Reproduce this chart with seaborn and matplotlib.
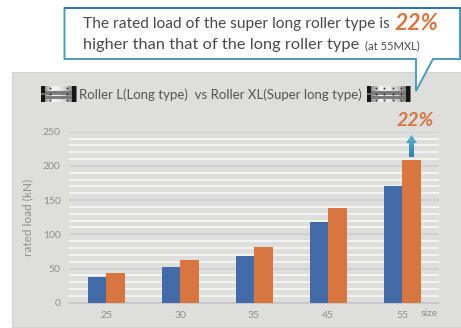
import numpy as np
import pandas as pd
import matplotlib
matplotlib.use('Agg')
import matplotlib.pyplot as plt
from matplotlib.colors import LinearSegmentedColormap
from matplotlib.patches import Polygon, Rectangle
import seaborn as sns

sizes = ['25', '30', '35', '45', '55']
roller_l = [38, 52, 68, 118, 170]
roller_xl = [44, 62, 82, 138, 208]

BLUE = '#436BA8'
ORANGE = '#D87642'
PANEL = '#DEDEDD'
TEXT = '#4A4A4A'
GREY = '#8F8F8F'
W, H = 461, 328


def draw_roller(ax, x0, x1, y0, y1, dots):
    # little rail icon next to the title
    grad = np.array([0.55, 0.95, 0.92, 0.8, 0.45]).reshape(1, -1)
    ax.imshow(grad, extent=(x0, x1, y1, y0), cmap='gray', vmin=0, vmax=1, aspect='auto',
              interpolation='bilinear', zorder=3)
    for yy in (y0 + 5.5, y1 - 5):
        ax.plot([x0, x1], [yy, yy], color='#7A7A7A', lw=2.2, solid_capstyle='butt', zorder=4)
    ax.add_patch(Rectangle((x0, y0), 4, y1 - y0, color='#161616', lw=0, zorder=5))
    ax.add_patch(Rectangle((x1 - 4, y0), 4, y1 - y0, color='#161616', lw=0, zorder=5))
    ax.plot([x0, x1 - 4], [(y0 + y1) / 2] * 2, color='#777777', lw=1.2, solid_capstyle='butt', zorder=5)
    for xx in np.linspace(x0 + 9, x1 - 9, dots):
        for yy in (y0 + 2, (y0 + y1) / 2, y1 - 2):
            ax.plot([xx], [yy], 's', color='#333333', ms=1.3, mew=0, zorder=6)


def main():
    sns.set_theme(style='white')
    plt.rcParams['font.family'] = ['Lato', 'DejaVu Sans']

    df = pd.DataFrame({
        'size': sizes * 2,
        'load': roller_l + roller_xl,
        'type': ['L'] * len(sizes) + ['XL'] * len(sizes),
    })

    fig = plt.figure(figsize=(W / 100, H / 100), dpi=100, facecolor='white')

    # overlay in pixel coordinates for the panel and the callout
    back = fig.add_axes([0, 0, 1, 1], zorder=0)
    back.set_xlim(0, W)
    back.set_ylim(H, 0)
    back.axis('off')
    back.add_patch(Rectangle((12, 72), W - 12, 255, facecolor=PANEL, edgecolor='#D2D2D2', lw=0.8))

    ax = fig.add_axes([69 / W, 1 - 302.7 / H, 370 / W, 171 / H], zorder=1)
    ax.patch.set_alpha(0)
    sns.barplot(data=df, x='size', y='load', hue='type', palette=[BLUE, ORANGE],
                width=0.5, gap=0, saturation=1, legend=False, linewidth=0, ax=ax, zorder=3)
    ax.set_ylim(0, 250)
    ax.set_xlim(-0.5, 4.5)
    ax.set_yticks(range(0, 251, 50))
    ax.set_yticks(range(0, 251, 10), minor=True)
    ax.grid(which='minor', axis='y', color='#FAFAFA', lw=1.1, zorder=0)
    ax.grid(which='major', axis='y', color='#CDCDD0', lw=1.1, zorder=1)
    ax.set_axisbelow(True)
    sns.despine(ax=ax, left=True, right=True, top=True, bottom=True)
    ax.axhline(0, color='#C8C8CC', lw=1.4, zorder=2, clip_on=False)
    ax.tick_params(which='both', length=0)
    ax.tick_params(axis='x', labelsize=7.5, labelcolor=GREY, pad=6)
    ax.tick_params(axis='y', labelsize=7.5, labelcolor=GREY, pad=6)
    ax.set_xlabel('')
    ax.set_ylabel('rated load (kN)', fontsize=8.5, color=GREY, labelpad=7)

    top = fig.add_axes([0, 0, 1, 1], zorder=2)
    top.patch.set_alpha(0)
    top.axis('off')

    # callout box with tail
    pts = [(64.5, 8), (460, 8), (460, 59), (433, 59), (416, 91), (416, 59), (64.5, 59)]
    top.add_patch(Polygon(pts, closed=True, facecolor='white', edgecolor='#4A9CB8', lw=1.4, zorder=2))
    top.plot([64.5, 460], [8, 8], color='#2F76A6', lw=1.4, zorder=3)

    top.text(83, 24, 'The rated load of the super long roller type is', fontsize=11.2, color=TEXT, va='center')
    top.text(395, 23, '22%', fontsize=16.5, color=ORANGE, weight='bold', style='italic', va='center')
    top.text(83, 44.5, 'higher than that of the long roller type', fontsize=11.8, color=TEXT, va='center')
    top.text(365, 46, '(at 55MXL)', fontsize=8, color=TEXT, va='center')

    # title with the two roller icons
    top.text(78.5, 94.5, 'Roller L(Long type)  vs Roller XL(Super long type)', fontsize=9.55, color='#555555', va='center')
    draw_roller(top, 41, 76, 86, 102, 2)
    draw_roller(top, 367, 410, 86, 102, 4)

    # 22% and arrow above the last bar
    top.text(415, 120, '22%', fontsize=14, color=ORANGE, weight='bold', style='italic', va='center', ha='center')
    arrow = Polygon([(409, 157), (409, 143), (406, 143), (411.5, 135), (417, 143), (414, 143), (414, 157)],
                    closed=True, facecolor='none', edgecolor='none')
    top.add_patch(arrow)
    grad = np.linspace(0, 1, 64).reshape(-1, 1)
    cmap = LinearSegmentedColormap.from_list('arr', ['#58B4CC', '#2E82AE'])
    im = top.imshow(grad, extent=(405, 418, 157, 135), cmap=cmap, aspect='auto', zorder=4)
    im.set_clip_path(arrow)

    top.text(421, 313, 'size', fontsize=7.5, color=GREY, va='center')

    top.set_xlim(0, W)
    top.set_ylim(H, 0)

    fig.savefig('out.png', dpi=100)
    plt.close(fig)


if __name__ == "__main__":
    main()
